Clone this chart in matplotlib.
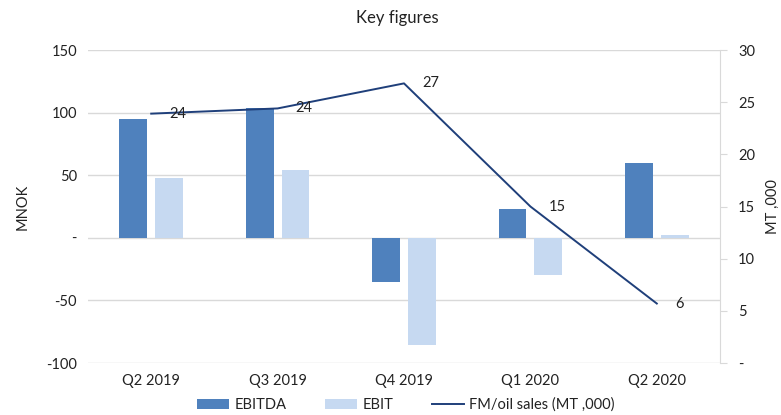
import matplotlib
matplotlib.use("Agg")
import matplotlib.pyplot as plt
import numpy as np

plt.rcParams['font.family'] = ['Lato', 'DejaVu Sans']

quarters = ["Q2 2019", "Q3 2019", "Q4 2019", "Q1 2020", "Q2 2020"]
ebitda = [95, 104, -35, 23, 60]
ebit = [48, 54, -86, -30, 2.5]
sales = [23.9, 24.4, 26.8, 15.0, 5.7]
sales_labels = ["24", "24", "27", "15", "6"]

dark = '#4f81bd'
light = '#c6d9f1'
line_col = '#1f3f7a'
grid_col = '#d9d9d9'
txt = '#222222'

fig = plt.figure(figsize=(7.81, 4.15), dpi=100)
ax = fig.add_axes([88 / 781, 1 - 363 / 415, 632 / 781, 313 / 415])
x = np.arange(len(quarters))
w = 0.22
ax.bar(x - 0.142, ebitda, w, color=dark, label='EBITDA', zorder=2)
ax.bar(x + 0.142, ebit, w, color=light, label='EBIT', zorder=2)
ax.set_xlim(-0.5, 4.5)
ax.set_ylim(-100, 150)
ax.set_yticks([-100, -50, 0, 50, 100, 150])
ax.set_yticklabels(['-100', '-50', '-', '50', '100', '150'])
ax.set_xticks(x)
ax.set_xticklabels(quarters)
ax.yaxis.grid(True, color=grid_col, linewidth=1, zorder=0)
ax.set_axisbelow(True)
for s in ['top', 'left', 'bottom', 'right']:
    ax.spines[s].set_visible(False)
ax.tick_params(axis='both', length=0, labelsize=10.5, colors=txt, pad=8)
ax.set_ylabel('MNOK', fontsize=10.5, color=txt, labelpad=12)

ax2 = ax.twinx()
ax2.plot(x, sales, color=line_col, linewidth=1.4, label='FM/oil sales (MT ,000)', zorder=3)
for xi, v, lab in zip(x, sales, sales_labels):
    ax2.annotate(lab, (xi, v), xytext=(13, 0), textcoords='offset points',
                 ha='left', va='center', fontsize=10.5, color=txt)
ax2.set_ylim(0, 30)
ax2.set_yticks([0, 5, 10, 15, 20, 25, 30])
ax2.set_yticklabels(['-', '5', '10', '15', '20', '25', '30'])
for s in ['top', 'left', 'bottom']:
    ax2.spines[s].set_visible(False)
ax2.spines['right'].set_color(grid_col)
ax2.tick_params(axis='y', length=5, color=grid_col, labelsize=10.5, colors=txt, pad=8)
ax2.set_ylabel('MT ,000', fontsize=10.5, color=txt, labelpad=8)

fig.suptitle('Key figures', x=397 / 781, y=1 - 18 / 415, va='center', fontsize=12, color=txt)

h1, l1 = ax.get_legend_handles_labels()
h2, l2 = ax2.get_legend_handles_labels()
fig.legend(h1 + h2, l1 + l2, loc='center', bbox_to_anchor=(406 / 781, 1 - 405 / 415),
           ncol=3, frameon=False, fontsize=10.5, handlelength=2.2, handleheight=0.6,
           columnspacing=2.6, handletextpad=0.4, labelcolor=txt, borderpad=0)

fig.savefig('out.png', dpi=100)
